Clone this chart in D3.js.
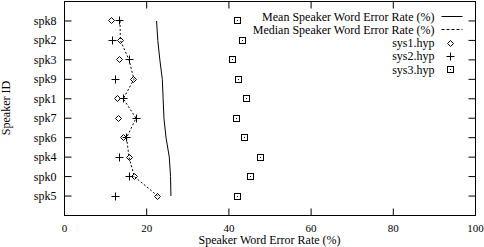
<!DOCTYPE html>
<html>
<head>
<meta charset="utf-8">
<script src="https://d3js.org/d3.v7.min.js"></script>
<style>
  body { margin: 0; background: #fff; }
  text { font-family: "Liberation Serif", serif; font-size: 12px; fill: #000; }
</style>
</head>
<body>
<div id="vis"></div>
<script>
// speakers, top to bottom
var speakers = ["spk8", "spk2", "spk3", "spk9", "spk1", "spk7", "spk6", "spk4", "spk0", "spk5"];
var sys1 = [11.4, 13.6, 13.4, 16.9, 13.0, 13.1, 14.3, 15.7, 17.0, 22.7];
var sys2 = [13.5, 11.6, 15.7, 12.3, 14.3, 17.4, 15.1, 13.5, 15.7, 12.4];
var sys3 = [42.0, 43.3, 40.8, 42.4, 44.3, 41.8, 43.8, 47.7, 45.3, 42.2];
var meanWer = [22.4, 22.7, 23.2, 23.8, 24.0, 24.2, 24.7, 25.5, 25.8, 25.9];
var medianWer = [13.5, 13.6, 15.7, 16.9, 14.3, 17.4, 15.1, 15.7, 17.0, 22.7];
var xTicks = [0, 20, 40, 60, 80, 100];

var margin = {top: 1, right: 9, bottom: 32, left: 64},
    width = 484 - margin.left - margin.right,
    height = 247 - margin.top - margin.bottom;

var svg = d3.select("#vis")
            .append("svg")
            .attr("width", 484)
            .attr("height", 247);

var g = svg.append("g")
           .attr("transform", "translate(" + (margin.left + 0.5) + "," + (margin.top + 0.5) + ")");

var x = d3.scaleLinear().domain([0, 100]).range([0, width]);
// gnuplot style: categories at 1..n, range 0..n+1
var y = d3.scaleLinear().domain([0, speakers.length + 1]).range([height, 0]);
function yPos(i) { return y(speakers.length - i); }

var tickLen = 7;

// frame
g.append("rect")
 .attr("width", width).attr("height", height)
 .attr("fill", "none").attr("stroke", "#000");

// x ticks (bottom + mirrored top)
xTicks.forEach(function(t) {
  if (t > 0 && t < 100) {
    g.append("line").attr("x1", x(t)).attr("x2", x(t)).attr("y1", height).attr("y2", height - tickLen).attr("stroke", "#000");
    g.append("line").attr("x1", x(t)).attr("x2", x(t)).attr("y1", 0).attr("y2", tickLen).attr("stroke", "#000");
  }
  g.append("text")
   .attr("x", x(t)).attr("y", height + 16)
   .attr("text-anchor", "middle")
   .style("font-size", "11px")
   .text(t);
});

// y ticks (left + mirrored right)
speakers.forEach(function(s, i) {
  var yy = yPos(i);
  g.append("line").attr("x1", 0).attr("x2", tickLen).attr("y1", yy).attr("y2", yy).attr("stroke", "#000");
  g.append("line").attr("x1", width).attr("x2", width - tickLen).attr("y1", yy).attr("y2", yy).attr("stroke", "#000");
  g.append("text")
   .attr("x", -8).attr("y", yy + 4)
   .attr("text-anchor", "end")
   .text(s);
});

// axis titles
svg.append("text")
   .attr("x", margin.left + width / 2).attr("y", 244)
   .attr("text-anchor", "middle")
   .text("Speaker Word Error Rate (%)");

svg.append("text")
   .attr("transform", "translate(10," + (margin.top + height / 2) + ") rotate(-90)")
   .attr("text-anchor", "middle")
   .text("Speaker ID");

////////// lines //////////
var line = d3.line()
             .x(function(d) { return x(d); })
             .y(function(d, i) { return yPos(i); });

g.append("path")
 .datum(meanWer)
 .attr("d", line)
 .attr("fill", "none").attr("stroke", "#000");

g.append("path")
 .datum(medianWer)
 .attr("d", line)
 .attr("fill", "none").attr("stroke", "#000")
 .attr("stroke-dasharray", "2,2");

////////// markers //////////
function diamond(sel, cx, cy) {
  sel.append("path")
     .attr("d", "M" + cx + "," + (cy - 3) + "L" + (cx + 3) + "," + cy + "L" + cx + "," + (cy + 3) + "L" + (cx - 3) + "," + cy + "Z")
     .attr("fill", "none").attr("stroke", "#000");
}
function plus(sel, cx, cy) {
  sel.append("path")
     .attr("d", "M" + (cx - 4) + "," + cy + "H" + (cx + 4) + "M" + cx + "," + (cy - 4) + "V" + (cy + 4))
     .attr("fill", "none").attr("stroke", "#000");
}
function box(sel, cx, cy) {
  sel.append("rect")
     .attr("x", cx - 3).attr("y", cy - 3).attr("width", 6).attr("height", 6)
     .attr("fill", "none").attr("stroke", "#000");
  sel.append("rect")
     .attr("x", cx - 0.5).attr("y", cy - 0.5).attr("width", 1).attr("height", 1)
     .attr("fill", "#000");
}

var marks = g.append("g");
speakers.forEach(function(s, i) {
  var yy = Math.round(yPos(i));
  diamond(marks, Math.round(x(sys1[i])), yy);
  plus(marks, Math.round(x(sys2[i])), yy);
  box(marks, Math.round(x(sys3[i])), yy);
});

////////// legend //////////
var legendItems = [
  {label: "Mean Speaker Word Error Rate (%)", kind: "solid"},
  {label: "Median Speaker Word Error Rate (%)", kind: "dashed"},
  {label: "sys1.hyp", kind: "diamond"},
  {label: "sys2.hyp", kind: "plus"},
  {label: "sys3.hyp", kind: "box"}
];
var legend = svg.append("g").attr("transform", "translate(0.5,0.5)");
legendItems.forEach(function(d, i) {
  var ly = 16 + i * 13.3;
  legend.append("text")
        .attr("x", 434).attr("y", ly + 4)
        .attr("text-anchor", "end")
        .text(d.label);
  if (d.kind == "solid" || d.kind == "dashed") {
    legend.append("line")
          .attr("x1", 441).attr("x2", 462)
          .attr("y1", Math.round(ly)).attr("y2", Math.round(ly))
          .attr("stroke", "#000")
          .attr("stroke-dasharray", d.kind == "dashed" ? "3,2" : null);
  } else if (d.kind == "diamond") {
    diamond(legend, 450, Math.round(ly));
  } else if (d.kind == "plus") {
    plus(legend, 450, Math.round(ly));
  } else {
    box(legend, 450, Math.round(ly));
  }
});
</script>
</body>
</html>
